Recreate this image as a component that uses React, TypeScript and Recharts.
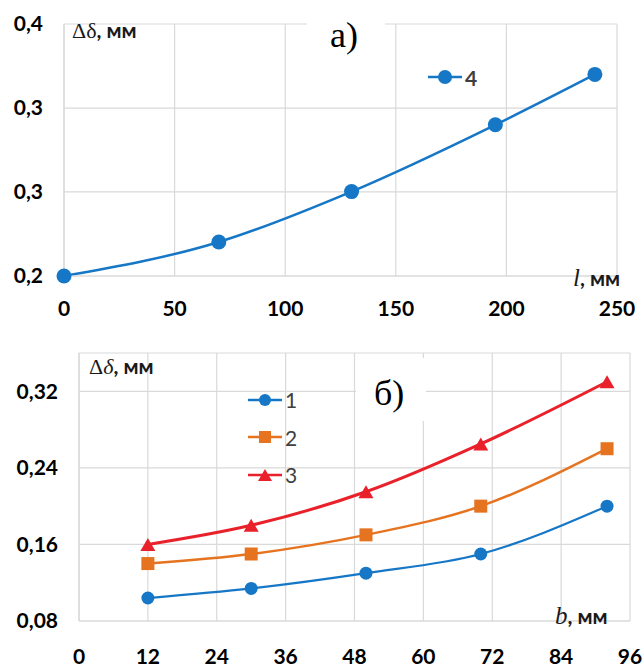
import { LineChart, Line, XAxis, YAxis, CartesianGrid, Legend } from 'recharts'

// (a) deflection vs length l
const lengthMm = [0, 70, 130, 195, 240]
const deltaL = [0.2, 0.227, 0.267, 0.32, 0.36]
const topXTicks = [0, 50, 100, 150, 200, 250]
const topYTicks = [0.2, 0.2667, 0.3333, 0.4]

// (б) deflection vs width b, curves 1..3
const widthMm = [12, 30, 50, 70, 92]
const curve1 = [0.104, 0.114, 0.13, 0.15, 0.2]
const curve2 = [0.14, 0.15, 0.17, 0.2, 0.26]
const curve3 = [0.16, 0.18, 0.215, 0.265, 0.33]
const bottomXTicks = [0, 12, 24, 36, 48, 60, 72, 84, 96]
const bottomYTicks = [0.08, 0.16, 0.24, 0.32]

const topData = lengthMm.map((l, i) => ({ l, d4: deltaL[i] }))
const bottomData = widthMm.map((b, i) => ({
  b,
  d1: curve1[i],
  d2: curve2[i],
  d3: curve3[i],
}))

const GRID = '#d9d9d9'
const BLUE = '#1677c6'
const ORANGE = '#e5731f'
const RED = '#e8212b'
const SANS = 'Lato, "Open Sans", sans-serif'
const SERIF = '"Liberation Serif", "DejaVu Serif", serif'
const TICK = { fill: '#000', fontSize: 21, fontWeight: 700, fontFamily: SANS }

const comma = (v: number, digits: number) => v.toFixed(digits).replace('.', ',')

type Shape = 'circle' | 'square' | 'triangle'

function Marker({ cx, cy, shape, color, size }: { cx: number; cy: number; shape: Shape; color: string; size: number }) {
  if (shape === 'square')
    return <rect x={cx - size} y={cy - size} width={size * 2} height={size * 2} fill={color} />
  if (shape === 'triangle')
    return (
      <polygon
        points={`${cx},${cy - size} ${cx + size + 1},${cy + size} ${cx - size - 1},${cy + size}`}
        fill={color}
      />
    )
  return <circle cx={cx} cy={cy} r={size} fill={color} />
}

const dotFor = (shape: Shape, color: string, size: number) =>
  (p: { cx?: number; cy?: number; index?: number }) => (
    <Marker key={`${shape}-${p.index}`} cx={p.cx ?? 0} cy={p.cy ?? 0} shape={shape} color={color} size={size} />
  )

interface LegendRow {
  label: string
  shape: Shape
  color: string
  size: number
}

function LegendBox({ rows, rowHeight, bold }: { rows: LegendRow[]; rowHeight: number; bold: boolean }) {
  return (
    <div>
      {rows.map((r) => (
        <div key={r.label} style={{ display: 'flex', alignItems: 'center', height: rowHeight }}>
          <svg width={36} height={20}>
            <line x1={0} y1={10} x2={34} y2={10} stroke={r.color} strokeWidth={2.5} />
            <Marker cx={17} cy={10} shape={r.shape} color={r.color} size={r.size} />
          </svg>
          <span
            style={{
              fontFamily: SANS,
              fontSize: 21,
              fontWeight: bold ? 700 : 400,
              color: '#404040',
              lineHeight: 1,
              marginLeft: 1,
            }}
          >
            {r.label}
          </span>
        </div>
      ))}
    </div>
  )
}

export default function App() {
  return (
    <div
      style={{
        position: 'absolute',
        left: 0,
        top: 0,
        width: 644,
        height: 667,
        background: '#fff',
        overflow: 'hidden',
      }}
    >
      <div style={{ position: 'absolute', left: 0, top: 0 }}>
        <LineChart width={644} height={320} data={topData} margin={{ top: 24, right: 27, bottom: 14, left: 0 }}>
          <CartesianGrid stroke={GRID} strokeWidth={1.2} />
          <XAxis
            dataKey="l"
            type="number"
            domain={[0, 250]}
            ticks={topXTicks}
            tick={TICK}
            tickLine={false}
            tickSize={0}
            tickMargin={25}
            height={30}
            axisLine={{ stroke: GRID, strokeWidth: 1.2 }}
          />
          <YAxis
            type="number"
            domain={[0.2, 0.4]}
            ticks={topYTicks}
            tick={TICK}
            tickLine={false}
            tickSize={0}
            tickMargin={21}
            width={64}
            axisLine={{ stroke: GRID, strokeWidth: 1.2 }}
            tickFormatter={(v: number) => comma(v, 1)}
          />
          <Legend
            layout="vertical"
            align="center"
            verticalAlign="middle"
            wrapperStyle={{ left: 428, top: 65, width: 'auto' }}
            content={() => (
              <LegendBox rows={[{ label: '4', shape: 'circle', color: BLUE, size: 7 }]} rowHeight={24} bold />
            )}
          />
          <Line
            type="monotone"
            dataKey="d4"
            name="4"
            stroke={BLUE}
            strokeWidth={2.5}
            dot={dotFor('circle', BLUE, 7.5)}
            isAnimationActive={false}
          />
        </LineChart>
      </div>

      <div style={{ position: 'absolute', left: 0, top: 320 }}>
        <LineChart width={644} height={347} data={bottomData} margin={{ top: 33, right: 14, bottom: 14, left: 0 }}>
          <CartesianGrid stroke={GRID} strokeWidth={1.2} />
          <XAxis
            dataKey="b"
            type="number"
            domain={[0, 96]}
            ticks={bottomXTicks}
            tick={TICK}
            tickLine={false}
            tickSize={0}
            tickMargin={28}
            height={32}
            axisLine={{ stroke: GRID, strokeWidth: 1.2 }}
          />
          <YAxis
            type="number"
            domain={[0.08, 0.36]}
            ticks={bottomYTicks}
            tick={TICK}
            tickLine={false}
            tickSize={0}
            tickMargin={21}
            width={79}
            axisLine={{ stroke: GRID, strokeWidth: 1.2 }}
            tickFormatter={(v: number) => comma(v, 2)}
          />
          <Legend
            layout="vertical"
            align="center"
            verticalAlign="middle"
            wrapperStyle={{ left: 248, top: 61, width: 'auto' }}
            content={() => (
              <LegendBox
                rows={[
                  { label: '1', shape: 'circle', color: BLUE, size: 6 },
                  { label: '2', shape: 'square', color: ORANGE, size: 6 },
                  { label: '3', shape: 'triangle', color: RED, size: 6 },
                ]}
                rowHeight={37.5}
                bold={false}
              />
            )}
          />
          <Line
            type="monotone"
            dataKey="d1"
            name="1"
            stroke={BLUE}
            strokeWidth={2.2}
            dot={dotFor('circle', BLUE, 6.5)}
            isAnimationActive={false}
          />
          <Line
            type="monotone"
            dataKey="d2"
            name="2"
            stroke={ORANGE}
            strokeWidth={2.5}
            dot={dotFor('square', ORANGE, 6.5)}
            isAnimationActive={false}
          />
          <Line
            type="monotone"
            dataKey="d3"
            name="3"
            stroke={RED}
            strokeWidth={3}
            dot={dotFor('triangle', RED, 6.5)}
            isAnimationActive={false}
          />
        </LineChart>
      </div>

      {/* panel captions and axis titles */}
      <svg
        width={644}
        height={667}
        style={{ position: 'absolute', left: 0, top: 0, pointerEvents: 'none' }}
      >
        <rect x={307} y={14} width={78} height={48} fill="#fff" />
        <rect x={356} y={358} width={70} height={63} fill="#fff" />
        <text x={330} y={47} fontFamily={SERIF} fontSize={36} fill="#000">
          а)
        </text>
        <text x={374} y={405} fontFamily={SERIF} fontSize={36} fill="#000">
          б)
        </text>
        <text x={72} y={38} fill="#1a1a1a">
          <tspan fontFamily={SERIF} fontSize={22}>Δδ</tspan>
          <tspan fontFamily={SANS} fontSize={21} fontWeight={700}>, мм</tspan>
        </text>
        <text x={89} y={374} fill="#1a1a1a">
          <tspan fontFamily={SERIF} fontSize={22}>Δ</tspan>
          <tspan fontFamily={SERIF} fontSize={22} fontStyle="italic">δ</tspan>
          <tspan fontFamily={SANS} fontSize={21} fontWeight={700}>, мм</tspan>
        </text>
        <text x={573} y={286} fill="#1a1a1a">
          <tspan fontFamily={SERIF} fontSize={25} fontStyle="italic">l</tspan>
          <tspan fontFamily={SANS} fontSize={21} fontWeight={700}>, мм</tspan>
        </text>
        <text x={555} y={624} fill="#1a1a1a">
          <tspan fontFamily={SERIF} fontSize={25} fontStyle="italic">b</tspan>
          <tspan fontFamily={SANS} fontSize={21} fontWeight={700}>, мм</tspan>
        </text>
      </svg>
    </div>
  )
}
